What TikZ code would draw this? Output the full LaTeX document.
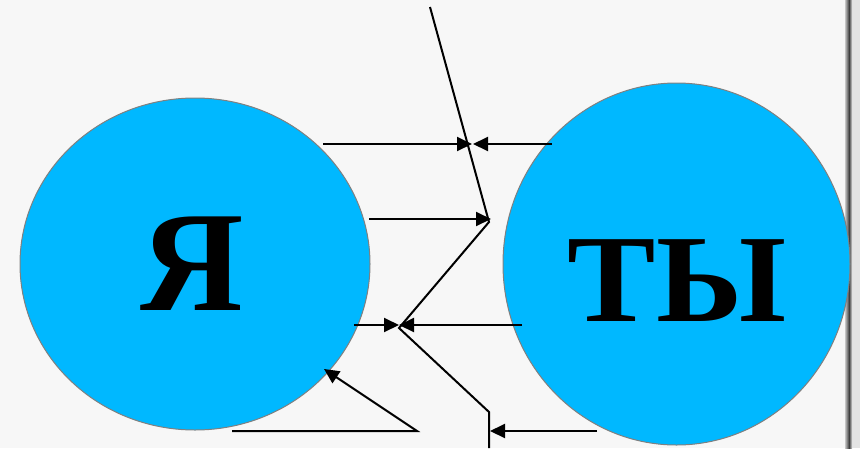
\documentclass[tikz,border=0pt]{standalone}
\usepackage{fontspec}
\setmainfont{Liberation Serif}
\usetikzlibrary{arrows.meta,shapes.geometric}
\definecolor{paper}{RGB}{247,247,247}
\definecolor{ballblue}{RGB}{0,184,255}
\definecolor{rimgray}{RGB}{128,128,128}
\tikzset{
  ball/.style={ellipse,draw=rimgray,line width=1pt,fill=ballblue,inner sep=0pt},
  bigword/.style={inner sep=0pt,font=\bfseries},
  conn/.style={line width=2pt,line join=miter},
  arr/.style={conn,-{Triangle[length=15pt,width=14pt]}}
}
\begin{document}
\begin{tikzpicture}[x=1pt,y=-1pt]
\fill[paper] (0,0) rectangle (860,448);
\useasboundingbox (0,0) rectangle (860,448);
\fill[gray!22] (852,0) rectangle (860,448);
\shade[left color=gray!45,right color=black!75] (845,0) rectangle (849,448);
\shade[left color=black!75,right color=gray!30] (849,0) rectangle (852,448);
% circles
\node[ball,minimum width=350pt,minimum height=332pt] (ya) at (195,264) {};
\node[ball,minimum width=347pt,minimum height=362pt] (ty) at (676.5,264) {};
\node[bigword,font=\bfseries\fontsize{143}{143}\selectfont] (yat) at (192,264) {Я};
\node[bigword,font=\bfseries\fontsize{125}{125}\selectfont] (tyt) at (677,281) {\scalebox{1.06}[1]{ТЫ}};
% zigzag path
\coordinate (z0) at (430,7);
\coordinate (z1) at (489,222);
\coordinate (z2) at (399,328);
\coordinate (z3) at (489,412);
\coordinate (z4) at (489,448);
\draw[conn] (z0) -- (z1) -- (z2) -- (z3) -- (z4);
% arrows
\coordinate (a1s) at (323,144); \coordinate (a1e) at (472,144);
\coordinate (a2s) at (552,144); \coordinate (a2e) at (473,144);
\coordinate (a3s) at (369,219); \coordinate (a3e) at (491,219);
\coordinate (a4s) at (354,325); \coordinate (a4e) at (399,325);
\coordinate (a5s) at (522,325); \coordinate (a5e) at (399,325);
\coordinate (a6s) at (232,431); \coordinate (a6m) at (417,431); \coordinate (a6e) at (324,369);
\coordinate (a7s) at (597,431); \coordinate (a7e) at (490,431);
\draw[arr] (a1s) -- (a1e);
\draw[arr] (a2s) -- (a2e);
\draw[arr] (a3s) -- (a3e);
\draw[arr] (a4s) -- (a4e);
\draw[arr] (a5s) -- (a5e);
\draw[arr] (a6s) -- (a6m) -- (a6e);
\draw[arr] (a7s) -- (a7e);
\end{tikzpicture}
\end{document}
